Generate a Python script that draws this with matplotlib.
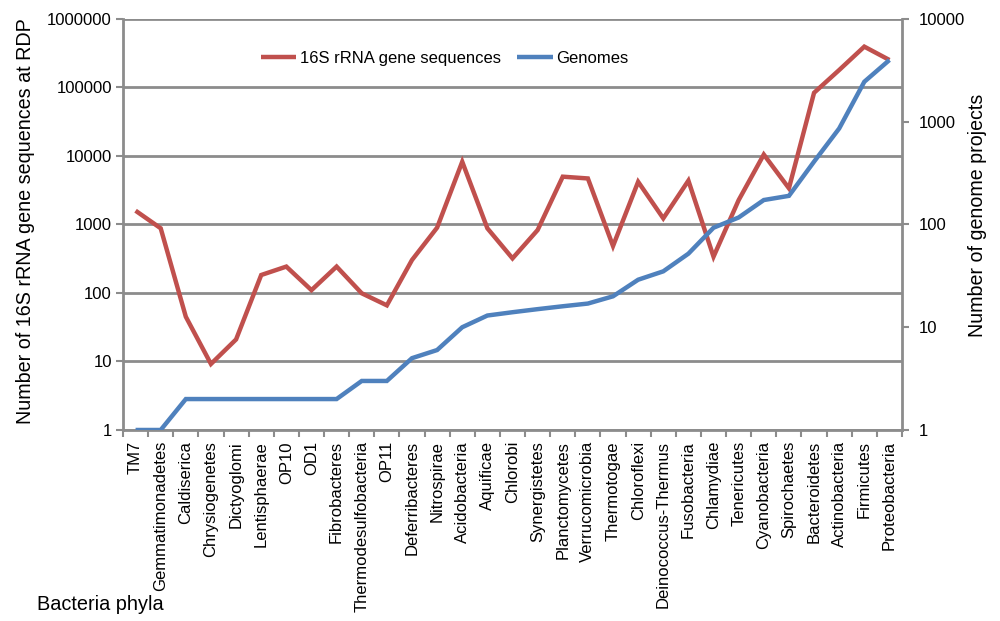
import matplotlib
matplotlib.use("Agg")
import matplotlib.pyplot as plt
from matplotlib.ticker import FixedLocator, NullFormatter, NullLocator

plt.rcParams['font.family'] = ['Liberation Sans', 'DejaVu Sans']

phyla = ["TM7", "Gemmatimonadetes", "Caldiserica", "Chrysiogenetes", "Dictyoglomi",
         "Lentisphaerae", "OP10", "OD1", "Fibrobacteres", "Thermodesulfobacteria",
         "OP11", "Deferribacteres", "Nitrospirae", "Acidobacteria", "Aquificae",
         "Chlorobi", "Synergistetes", "Planctomycetes", "Verrucomicrobia", "Thermotogae",
         "Chloroflexi", "Deinococcus-Thermus", "Fusobacteria", "Chlamydiae", "Tenericutes",
         "Cyanobacteria", "Spirochaetes", "Bacteroidetes", "Actinobacteria", "Firmicutes",
         "Proteobacteria"]

rrna_16s = [1590, 880, 45, 9.2, 21, 183, 243, 110, 243, 99,
            66, 303, 900, 8240, 880, 320, 830, 4990, 4700, 485,
            4200, 1230, 4370, 339, 2270, 10500, 3380, 83700, 180000, 395000,
            252000]

genomes = [1, 1, 2, 2, 2, 2, 2, 2, 2, 3,
           3, 5, 6, 10, 13, 14, 15, 16, 17, 20,
           29, 35, 52, 93, 117, 173, 190, 409, 860, 2450,
           3990]

left_ticks = [1, 10, 100, 1000, 10000, 100000, 1000000]
right_ticks = [1, 10, 100, 1000, 10000]

RED = "#C0504D"
BLUE = "#4F81BD"
GREY = "#8C8C8C"

fig = plt.figure(figsize=(10, 6.21), dpi=100)
ax = fig.add_axes([0.123, 0.3076, 0.779, 0.6618])
ax2 = ax.twinx()

x = list(range(len(phyla)))

ax.set_yscale("log")
ax.set_ylim(1, 1e6)
ax.set_xlim(-0.5, len(phyla) - 0.5)
ax2.set_yscale("log")
ax2.set_ylim(1, 1e4)

# horizontal gridlines at each decade of the left axis
for t in left_ticks:
    ax.axhline(t, color=GREY, lw=2, zorder=0)

l1, = ax.plot(x, rrna_16s, color=RED, lw=3.2, solid_joinstyle="miter",
              solid_capstyle="butt", zorder=3, label="16S rRNA gene sequences")
l2, = ax2.plot(x, genomes, color=BLUE, lw=3.2, solid_joinstyle="miter",
               solid_capstyle="butt", zorder=3, label="Genomes")

for a in (ax, ax2):
    for s in a.spines.values():
        s.set_visible(False)

ax.spines['left'].set_visible(True)
ax.spines['left'].set_color(GREY)
ax.spines['left'].set_linewidth(2)
ax.spines['bottom'].set_visible(True)
ax.spines['bottom'].set_color(GREY)
ax.spines['bottom'].set_linewidth(2)
ax2.spines['right'].set_visible(True)
ax2.spines['right'].set_color(GREY)
ax2.spines['right'].set_linewidth(2)

ax.yaxis.set_major_locator(FixedLocator(left_ticks))
ax.yaxis.set_minor_locator(NullLocator())
ax.set_yticklabels([str(t) for t in left_ticks])
ax2.yaxis.set_major_locator(FixedLocator(right_ticks))
ax2.yaxis.set_minor_locator(NullLocator())
ax2.set_yticklabels([str(t) for t in right_ticks])

ax.tick_params(axis='y', which='major', direction='out', length=5, width=1.5,
               color=GREY, labelsize=12, pad=3)
ax2.tick_params(axis='y', which='major', direction='out', length=5, width=1.5,
                color=GREY, labelsize=12, pad=7)

ax.set_xticks(x)
ax.set_xticklabels(phyla, rotation=90, fontsize=12)
ax.set_xticks([i - 0.5 for i in range(len(phyla) + 1)], minor=True)
ax.xaxis.set_minor_formatter(NullFormatter())
ax.tick_params(axis='x', which='major', length=0, pad=8)
ax.tick_params(axis='x', which='minor', direction='out', length=5, width=1.5, color=GREY)

ax.set_ylabel("Number of 16S rRNA gene sequences at RDP", fontsize=14.2)
ax.yaxis.set_label_coords(-0.113, 0.508)
ax2.set_ylabel("Number of genome projects", fontsize=14.1)
ax2.yaxis.set_label_coords(1.0847, 0.521)

fig.text(0.037, 0.012, "Bacteria phyla", fontsize=14.3, ha="left", va="bottom")

ax.legend(handles=[l1, l2], loc="upper center", bbox_to_anchor=(0.413, 0.958),
          ncol=2, frameon=False, fontsize=12, handlelength=2.15, columnspacing=1.0,
          handletextpad=0.2)

fig.savefig("out.png", dpi=100)
